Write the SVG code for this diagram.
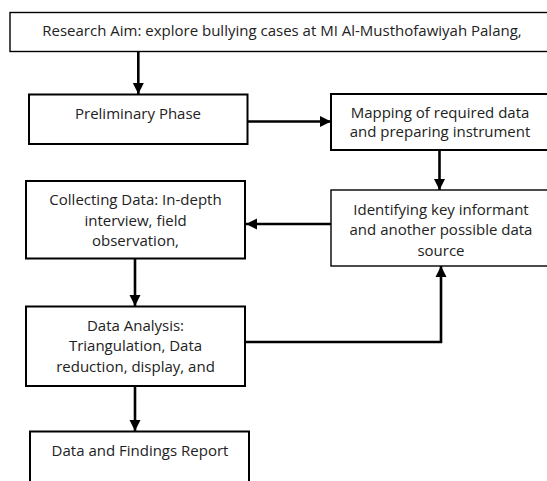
<svg xmlns="http://www.w3.org/2000/svg" width="547" height="481" viewBox="0 0 547 481">
<style>
.box{fill:#fff;stroke:#000;stroke-width:2}
.thin{stroke-width:1.4}
.t{font-family:"Open Sans","Noto Sans",sans-serif;font-size:15px;fill:#222;text-anchor:middle}
.c{fill:none;stroke:#000;stroke-width:2.6}
</style>
<defs>
<marker id="ah" markerUnits="userSpaceOnUse" markerWidth="12" markerHeight="12" viewBox="0 0 12 12" refX="11" refY="6" orient="auto">
<path d="M0,0.5 L11,6 L0,11.5 Z" fill="#000"/>
</marker>
</defs>
<rect width="547" height="481" fill="#fff"/>
<g id="connectors">
<line class="c" x1="138.3" y1="52" x2="138.3" y2="94" marker-end="url(#ah)"/>
<line class="c" x1="248" y1="121.5" x2="331" y2="121.5" marker-end="url(#ah)"/>
<line class="c" x1="439.5" y1="150" x2="439.5" y2="190" marker-end="url(#ah)"/>
<line class="c" x1="331" y1="224" x2="246" y2="224" marker-end="url(#ah)"/>
<line class="c" x1="135" y1="258" x2="135" y2="306" marker-end="url(#ah)"/>
<path class="c" d="M245,342 H441 V266" marker-end="url(#ah)"/>
<line class="c" x1="135" y1="386" x2="135" y2="431" marker-end="url(#ah)"/>
</g>
<g id="aim">
<rect class="box thin" x="10" y="12.5" width="545" height="39"/>
<text class="t" x="282" y="36">Research Aim: explore bullying cases at MI Al-Musthofawiyah Palang,</text>
</g>
<g id="preliminary">
<rect class="box" x="29" y="94.5" width="218.5" height="49.5"/>
<text class="t" x="138" y="118.5">Preliminary Phase</text>
</g>
<g id="mapping">
<rect class="box" x="331" y="94" width="219" height="56"/>
<text class="t" x="440" y="117.5">Mapping of required data</text>
<text class="t" x="440" y="137">and preparing instrument</text>
</g>
<g id="identifying">
<rect class="box thin" x="331" y="190" width="220" height="76"/>
<text class="t" x="441" y="214.5">Identifying key informant</text>
<text class="t" x="441" y="235">and another possible data</text>
<text class="t" x="441" y="256">source</text>
</g>
<g id="collecting">
<rect class="box" x="26" y="181" width="219" height="77.5"/>
<text class="t" x="135.5" y="205">Collecting Data: In-depth</text>
<text class="t" x="135.5" y="226">interview, field</text>
<text class="t" x="135.5" y="246">observation,</text>
</g>
<g id="analysis">
<rect class="box" x="26" y="306.5" width="219" height="79.5"/>
<text class="t" x="135.5" y="330.5">Data Analysis:</text>
<text class="t" x="135.5" y="351">Triangulation, Data</text>
<text class="t" x="135.5" y="372">reduction, display, and</text>
</g>
<g id="report">
<rect class="box" x="30" y="431.5" width="219" height="60"/>
<text class="t" x="140" y="455.5">Data and Findings Report</text>
</g>
</svg>
